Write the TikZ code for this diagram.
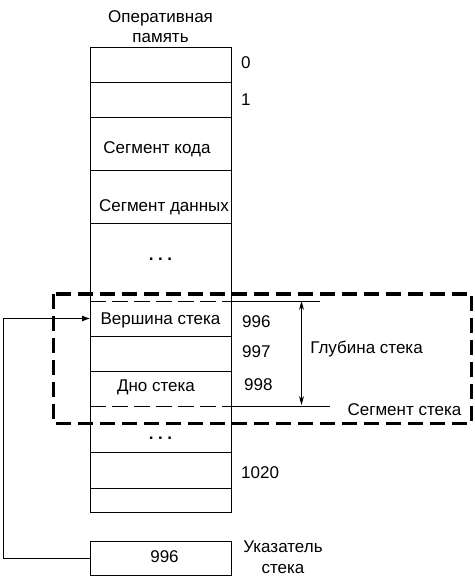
\documentclass[tikz,border=0pt]{standalone}
\usepackage{fontspec}
\setmainfont{Liberation Sans}
\usetikzlibrary{positioning,arrows.meta}

\begin{document}
\begin{tikzpicture}[x=1pt, y=-1pt,
		font=\fontsize{17}{21}\selectfont,
		cell/.style={minimum width=141pt, inner sep=0pt, outer sep=0pt, anchor=north},
		txt/.style={inner sep=0pt, text height=12.2pt, text depth=0pt},
		dots/.style={inner sep=0pt, font=\fontsize{17}{21}\bfseries},
		thin/.style={line width=0.8pt},
		thindash/.style={line width=0.8pt, dash pattern=on 16pt off 6pt},
		segbox/.style={line width=3.2pt, dash pattern=on 15pt off 7pt},
		arrow/.style={-{Latex[length=8pt,width=6pt]}, line width=0.8pt},
		both/.style={{Stealth[length=9pt,width=5pt]}-{Stealth[length=9pt,width=5pt]}, line width=0.8pt}
	]
	\useasboundingbox (0,0) rectangle (474,580);

	% memory column
	\node[cell, minimum height=35pt] (c0) at (160.5,47) {};
	\node[cell, minimum height=35pt, below=0pt of c0] (c1) {};
	\node[cell, minimum height=53pt, below=0pt of c1] (code) {};
	\node[cell, minimum height=53pt, below=0pt of code] (data) {};
	\node[cell, minimum height=78pt, below=0pt of data] (gap) {};
	\node[cell, minimum height=35pt, below=0pt of gap] (top) {};
	\node[cell, minimum height=35pt, below=0pt of top] (mid) {};
	\node[cell, minimum height=35pt, below=0pt of mid] (bot) {};
	\node[cell, minimum height=46pt, below=0pt of bot] (gap2) {};
	\node[cell, minimum height=36pt, below=0pt of gap2] (c1020) {};
	\node[cell, minimum height=24pt, below=0pt of c1020] (last) {};

	\node[txt, xshift=-3.5pt, yshift=-3.5pt] (codetxt) at (code) {Сегмент кода};
	\node[txt, xshift=3.5pt, yshift=-9pt] (datatxt) at (data) {Сегмент данных};
	\node[dots, yshift=3pt] (dots1) at (gap) {.\hspace{4.5pt}.\hspace{4.5pt}.};
	\node[txt] (toptxt) at (top) {Вершина стека};
	\node[txt, xshift=-4.5pt, yshift=3.5pt] (bottxt) at (bot) {Дно стека};
	\node[dots, yshift=-9pt] (dots2) at (gap2) {.\hspace{4.5pt}.\hspace{4.5pt}.};
	\node[above=1pt of c0, align=center, font=\fontsize{17}{19.5}\selectfont] (ram) {Оперативная\\память};

	\draw[thin] (c0.north west) rectangle (last.south east);
	\foreach \c in {c0,c1,code,data,top,mid,gap2,c1020}
		\draw[thin] (\c.south west) -- (\c.south east);
	\draw[thindash] (gap.south west) -- (gap.south east);
	\draw[thindash] (bot.south west) -- (bot.south east);

	% addresses
	\node[txt, right=10pt of c0, yshift=2pt] (a0) {0};
	\node[txt, right=10pt of c1] (a1) {1};
	\node[txt, right=11pt of top, yshift=-2.5pt] (a996) {996};
	\node[txt, right=11pt of mid, yshift=2.5pt] (a997) {997};
	\node[txt, right=13pt of bot, yshift=4.5pt] (a998) {998};
	\node[txt, right=10pt of c1020, yshift=-2pt] (a1020) {1020};

	% stack depth
	\draw[thin] (top.north east) -- ++(89,0) coordinate (tt);
	\draw[thin] (bot.south east) -- ++(99,0) coordinate (tb);
	\coordinate (dtop) at (301.5,301);
	\coordinate (dbot) at (301.5,405);
	\draw[both] (dtop) -- (dbot);
	\node[txt] (depth) at (366.5,347.5) {Глубина стека};
	\node[txt] (seglabel) at (404.5,409.5) {Сегмент стека};
	\draw[segbox] (53.5,294) rectangle (471.5,423.5);

	% stack pointer
	\node[cell, draw, thin, minimum height=34pt] (ptr) at (160.5,541) {};
	\node[txt, xshift=4pt, yshift=1.5pt] (ptrtxt) at (ptr) {996};
	\node[align=center] (ptrlabel) at (283,557) {Указатель\\стека};
	\coordinate (corner) at (3,558);
	\draw[arrow] (ptr.west) -- (corner) |- (top.west);

\end{tikzpicture}
\end{document}
